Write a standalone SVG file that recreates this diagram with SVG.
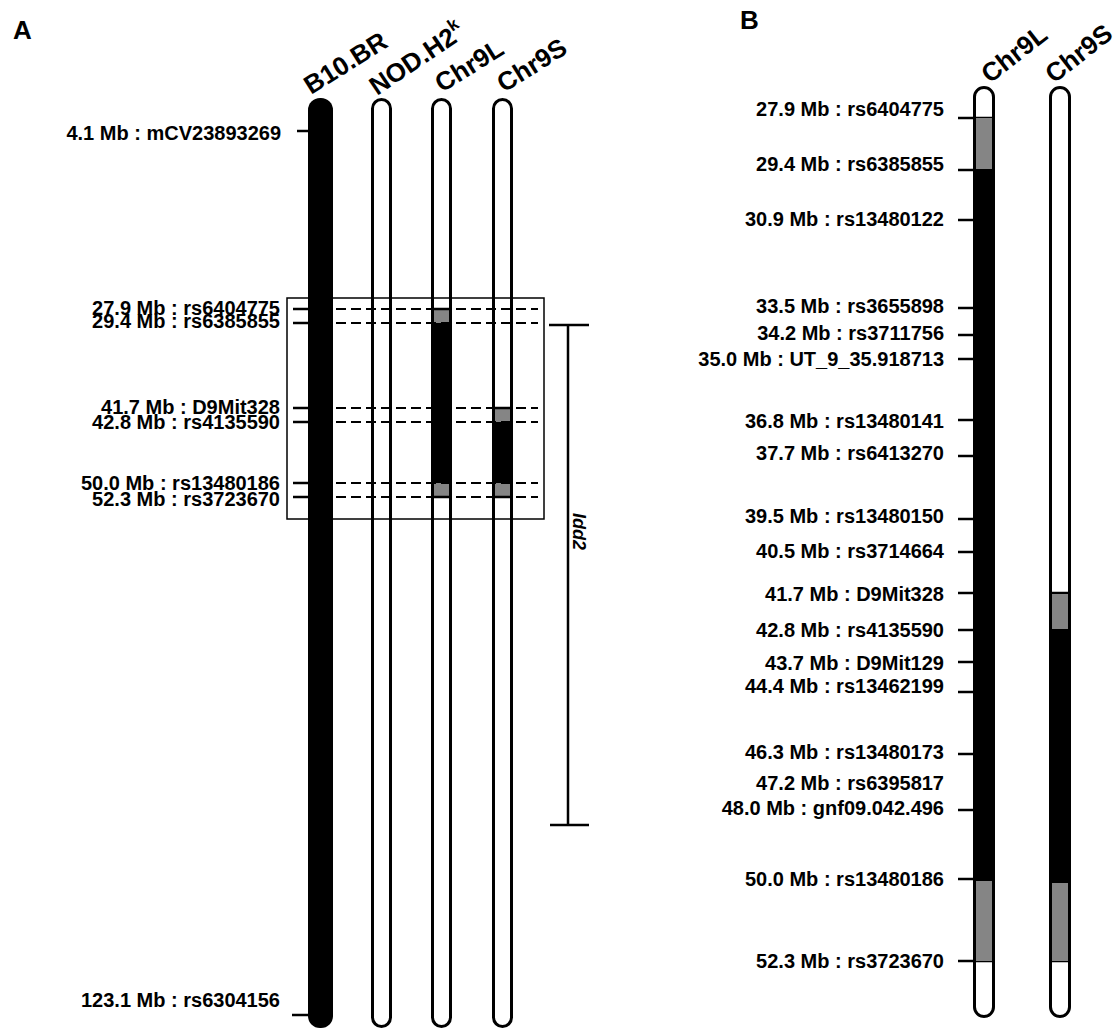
<svg xmlns="http://www.w3.org/2000/svg" width="1120" height="1029" viewBox="0 0 1120 1029">
<style>
text{font-family:"Liberation Sans",Arial,sans-serif;fill:#000}
.lbl{font-size:20px;font-weight:bold;text-anchor:end}
.hdr{font-size:26px;font-weight:bold}
.pan{font-size:26px;font-weight:bold}
.col{fill:none;stroke:#000;stroke-width:3}
.tick{stroke:#000;stroke-width:2.5}
.dash{stroke:#000;stroke-width:2;stroke-dasharray:10,5}
.gray{fill:#858585}
.blk{fill:#000}
</style>
<defs>
<clipPath id="cA9L"><rect x="432.5" y="99.5" width="18" height="927" rx="9"/></clipPath>
<clipPath id="cA9S"><rect x="493.5" y="99.5" width="18" height="927" rx="9"/></clipPath>
<clipPath id="cB9L"><rect x="974.5" y="87.5" width="19" height="929" rx="9.5"/></clipPath>
<clipPath id="cB9S"><rect x="1050.5" y="87.5" width="19" height="929" rx="9.5"/></clipPath>
</defs>
<rect width="1120" height="1029" fill="#fff"/>

<text class="pan" x="13" y="39">A</text>
<text class="pan" x="740" y="29">B</text>

<!-- Panel A columns -->
<g id="a-b10br">
<rect x="308" y="98" width="25" height="930" rx="12" class="blk"/>
<text class="hdr" transform="translate(311,95) rotate(-32)">B10.BR</text>
</g>
<g id="a-nodh2k">
<rect x="372.5" y="99.5" width="18" height="927" rx="9" class="col" fill="#fff"/>
<text class="hdr" transform="translate(377,96) rotate(-34)">NOD.H2<tspan font-size="17" dy="-11">k</tspan></text>
</g>
<g id="a-chr9l">
<g clip-path="url(#cA9L)">
<rect x="430" y="309" width="24" height="14" class="gray"/>
<rect x="430" y="323" width="24" height="160" class="blk"/>
<rect x="430" y="483" width="24" height="14" class="gray"/>
</g>
<rect x="432.5" y="99.5" width="18" height="927" rx="9" class="col"/>
<text class="hdr" transform="translate(442,93) rotate(-32)">Chr9L</text>
</g>
<g id="a-chr9s">
<g clip-path="url(#cA9S)">
<rect x="490" y="408" width="24" height="14" class="gray"/>
<rect x="490" y="422" width="24" height="61" class="blk"/>
<rect x="490" y="483" width="24" height="14" class="gray"/>
</g>
<rect x="493.5" y="99.5" width="18" height="927" rx="9" class="col"/>
<text class="hdr" transform="translate(504,93) rotate(-32)">Chr9S</text>
</g>

<!-- Panel A labels -->
<g id="a-labels">
<text class="lbl" x="281" y="140">4.1 Mb : mCV23893269</text>
<text class="lbl" x="280" y="315">27.9 Mb : rs6404775</text>
<text class="lbl" x="280" y="328">29.4 Mb : rs6385855</text>
<text class="lbl" x="280" y="414">41.7 Mb : D9Mit328</text>
<text class="lbl" x="280" y="429">42.8 Mb : rs4135590</text>
<text class="lbl" x="280" y="490">50.0 Mb : rs13480186</text>
<text class="lbl" x="280" y="506">52.3 Mb : rs3723670</text>
<text class="lbl" x="280" y="1007">123.1 Mb : rs6304156</text>
</g>

<g id="connectors">
<line class="tick" x1="297" y1="131" x2="308" y2="131"/>
<line class="tick" x1="292" y1="1015" x2="308" y2="1015"/>
<line class="tick" x1="293" y1="309" x2="308" y2="309"/>
<line class="tick" x1="293" y1="323" x2="308" y2="323"/>
<line class="tick" x1="293" y1="408" x2="308" y2="408"/>
<line class="tick" x1="293" y1="422" x2="308" y2="422"/>
<line class="tick" x1="293" y1="483" x2="308" y2="483"/>
<line class="tick" x1="293" y1="497" x2="308" y2="497"/>
<line class="dash" x1="336" y1="309" x2="538" y2="309"/>
<line class="dash" x1="336" y1="323" x2="538" y2="323"/>
<line class="dash" x1="336" y1="408" x2="538" y2="408"/>
<line class="dash" x1="336" y1="422" x2="538" y2="422"/>
<line class="dash" x1="336" y1="483" x2="538" y2="483"/>
<line class="dash" x1="336" y1="497" x2="538" y2="497"/>
<line class="tick" x1="432" y1="309" x2="451" y2="309"/>
<line class="tick" x1="432" y1="497" x2="451" y2="497"/>
<line class="tick" x1="493" y1="408" x2="512" y2="408"/>
<line class="tick" x1="493" y1="497" x2="512" y2="497"/>
<rect x="287" y="298" width="257" height="221" fill="none" stroke="#000" stroke-width="1.5"/>
<!-- panel B ticks -->
<line class="tick" x1="958" y1="118" x2="992" y2="118"/>
<line class="tick" x1="958" y1="170" x2="974" y2="170"/>
<line class="tick" x1="958" y1="220" x2="974" y2="220"/>
<line class="tick" x1="958" y1="308" x2="974" y2="308"/>
<line class="tick" x1="958" y1="335" x2="974" y2="335"/>
<line class="tick" x1="958" y1="359" x2="974" y2="359"/>
<line class="tick" x1="958" y1="420" x2="974" y2="420"/>
<line class="tick" x1="958" y1="456" x2="974" y2="456"/>
<line class="tick" x1="958" y1="519" x2="974" y2="519"/>
<line class="tick" x1="958" y1="552" x2="974" y2="552"/>
<line class="tick" x1="958" y1="593" x2="974" y2="593"/>
<line class="tick" x1="958" y1="630" x2="974" y2="630"/>
<line class="tick" x1="958" y1="662" x2="974" y2="662"/>
<line class="tick" x1="958" y1="692" x2="974" y2="692"/>
<line class="tick" x1="958" y1="754" x2="974" y2="754"/>
<line class="tick" x1="958" y1="810" x2="974" y2="810"/>
<line class="tick" x1="958" y1="879" x2="974" y2="879"/>
<line class="tick" x1="958" y1="961" x2="992" y2="961"/>
<line class="tick" x1="1051" y1="593" x2="1069" y2="593"/>
<line class="tick" x1="1051" y1="961" x2="1069" y2="961"/>
</g>

<g id="idd2">
<line class="tick" stroke-width="3" x1="568" y1="325" x2="568" y2="825"/>
<line class="tick" stroke-width="3" x1="549" y1="325" x2="589" y2="325"/>
<line class="tick" stroke-width="3" x1="550" y1="825" x2="589" y2="825"/>
<text transform="translate(573,513) rotate(90)" font-size="18" font-style="italic" font-weight="bold">Idd2</text>
</g>

<!-- Panel B -->
<g id="b-chr9l">
<g clip-path="url(#cB9L)">
<rect x="972" y="118" width="26" height="51" class="gray"/>
<rect x="972" y="169" width="26" height="712" class="blk"/>
<rect x="972" y="881" width="26" height="80" class="gray"/>
</g>
<rect x="974.5" y="87.5" width="19" height="929" rx="9.5" class="col"/>
<text class="hdr" transform="translate(990,84) rotate(-38)">Chr9L</text>
</g>
<g id="b-chr9s">
<g clip-path="url(#cB9S)">
<rect x="1048" y="594" width="26" height="35" class="gray"/>
<rect x="1048" y="629" width="26" height="254" class="blk"/>
<rect x="1048" y="883" width="26" height="78" class="gray"/>
</g>
<rect x="1050.5" y="87.5" width="19" height="929" rx="9.5" class="col"/>
<text class="hdr" transform="translate(1054,84) rotate(-38)">Chr9S</text>
</g>

<g id="b-labels">
<text class="lbl" x="944" y="116">27.9 Mb : rs6404775</text>
<text class="lbl" x="944" y="171">29.4 Mb : rs6385855</text>
<text class="lbl" x="944" y="226">30.9 Mb : rs13480122</text>
<text class="lbl" x="944" y="313">33.5 Mb : rs3655898</text>
<text class="lbl" x="944" y="340">34.2 Mb : rs3711756</text>
<text class="lbl" x="944" y="366">35.0 Mb : UT_9_35.918713</text>
<text class="lbl" x="944" y="428">36.8 Mb : rs13480141</text>
<text class="lbl" x="944" y="460">37.7 Mb : rs6413270</text>
<text class="lbl" x="944" y="523">39.5 Mb : rs13480150</text>
<text class="lbl" x="944" y="558">40.5 Mb : rs3714664</text>
<text class="lbl" x="944" y="601">41.7 Mb : D9Mit328</text>
<text class="lbl" x="944" y="637">42.8 Mb : rs4135590</text>
<text class="lbl" x="944" y="670">43.7 Mb : D9Mit129</text>
<text class="lbl" x="944" y="693">44.4 Mb : rs13462199</text>
<text class="lbl" x="944" y="759">46.3 Mb : rs13480173</text>
<text class="lbl" x="944" y="790">47.2 Mb : rs6395817</text>
<text class="lbl" x="944" y="815">48.0 Mb : gnf09.042.496</text>
<text class="lbl" x="944" y="886">50.0 Mb : rs13480186</text>
<text class="lbl" x="944" y="968">52.3 Mb : rs3723670</text>
</g>
</svg>
